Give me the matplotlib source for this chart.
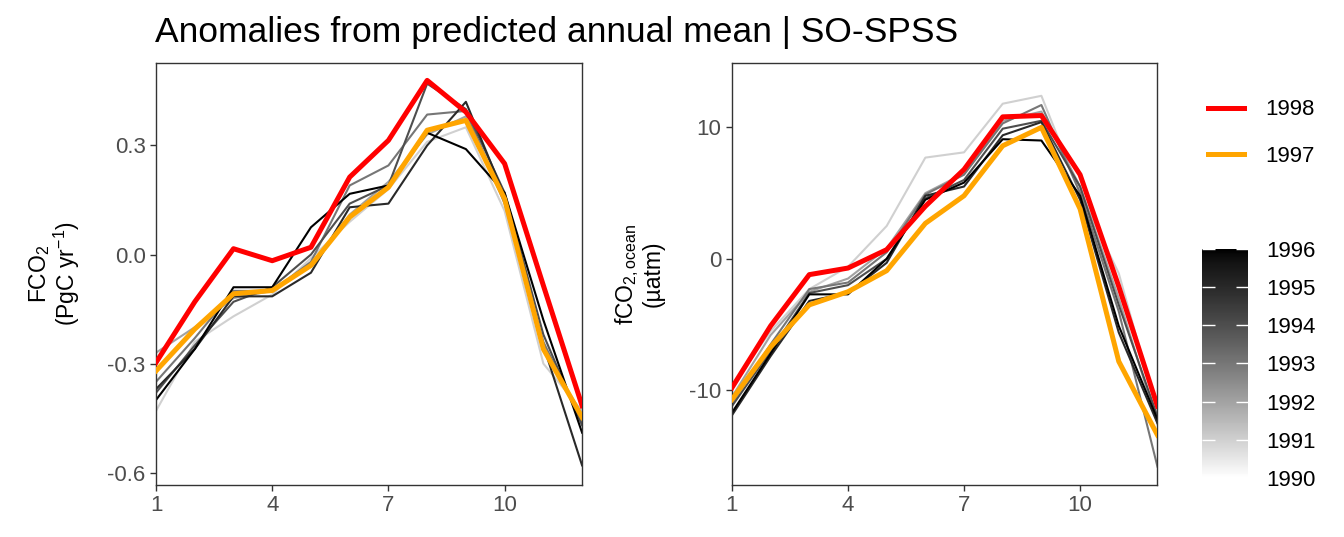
import numpy as np
import matplotlib
matplotlib.use("Agg")
import matplotlib.pyplot as plt
from matplotlib.colors import ListedColormap, Normalize
from matplotlib.cm import ScalarMappable
from matplotlib.lines import Line2D

plt.rcParams['font.family'] = ['Liberation Sans', 'DejaVu Sans']
plt.rcParams['axes.unicode_minus'] = False
plt.rcParams['mathtext.fontset'] = 'custom'
plt.rcParams['mathtext.rm'] = 'Liberation Sans'
plt.rcParams['mathtext.it'] = 'Liberation Sans'

months = np.arange(1, 13)
grey_years = [1991, 1992, 1993, 1994, 1995, 1996]

# FCO2 anomalies (PgC yr-1)
fco2_1991 = [-0.43, -0.24, -0.17, -0.11, -0.01, 0.09, 0.18, 0.31, 0.35, 0.12, -0.30, -0.43]
fco2_1992 = [-0.27, -0.20, -0.12, -0.10, -0.03, 0.11, 0.20, 0.33, 0.38, 0.16, -0.26, -0.44]
fco2_1993 = [-0.35, -0.23, -0.10, -0.10, -0.02, 0.19, 0.245, 0.385, 0.395, 0.14, -0.24, -0.46]
fco2_1994 = [-0.38, -0.25, -0.13, -0.09, 0.00, 0.14, 0.19, 0.47, 0.40, 0.17, -0.22, -0.47]
fco2_1995 = [-0.37, -0.26, -0.115, -0.115, -0.05, 0.13, 0.14, 0.30, 0.42, 0.16, -0.25, -0.58]
fco2_1996 = [-0.40, -0.26, -0.09, -0.09, 0.075, 0.167, 0.19, 0.335, 0.29, 0.17, -0.18, -0.49]
fco2_1997 = [-0.32, -0.205, -0.108, -0.099, -0.03, 0.103, 0.185, 0.342, 0.369, 0.153, -0.26, -0.448]
fco2_1998 = [-0.297, -0.13, 0.016, -0.017, 0.02, 0.213, 0.314, 0.479, 0.392, 0.25, -0.085, -0.416]

# fCO2,ocean anomalies (uatm)
pco2_1991 = [-9.7, -5.5, -2.3, -0.6, 2.5, 7.7, 8.1, 11.8, 12.4, 5.0, -1.1, -11.7]
pco2_1992 = [-10.5, -5.8, -2.5, -1.5, 0.8, 5.0, 6.5, 10.5, 11.2, 5.5, -3.0, -12.5]
pco2_1993 = [-11.0, -6.5, -2.3, -1.8, 0.5, 4.9, 6.4, 10.3, 11.7, 5.0, -4.0, -15.8]
pco2_1994 = [-11.2, -7.0, -2.6, -2.0, 0.0, 4.6, 6.0, 9.9, 10.5, 5.5, -3.5, -12.0]
pco2_1995 = [-11.9, -7.4, -3.2, -2.6, -0.3, 4.8, 5.5, 9.4, 10.4, 4.5, -5.6, -12.5]
pco2_1996 = [-11.7, -7.2, -2.7, -2.7, 0.0, 4.5, 5.8, 9.1, 9.0, 4.8, -5.1, -12.2]
pco2_1997 = [-10.7, -6.7, -3.5, -2.5, -0.9, 2.7, 4.8, 8.6, 10.0, 3.8, -7.8, -13.4]
pco2_1998 = [-9.8, -5.1, -1.2, -0.7, 0.7, 4.0, 6.8, 10.8, 10.9, 6.4, -2.1, -11.2]

fco2_grey = [fco2_1991, fco2_1992, fco2_1993, fco2_1994, fco2_1995, fco2_1996]
pco2_grey = [pco2_1991, pco2_1992, pco2_1993, pco2_1994, pco2_1995, pco2_1996]


# white -> black gradient interpolated in Lab lightness (like ggplot)
def lab_grey(t):
    L = 100 * (1 - t)
    Y = ((L + 16) / 116) ** 3 if L > 8 else L / 903.3
    v = 1.055 * Y ** (1 / 2.4) - 0.055 if Y > 0.0031308 else 12.92 * Y
    return (v, v, v)


cmap = ListedColormap([lab_grey(t) for t in np.linspace(0, 1, 256)])
norm = Normalize(1990, 1996)

fig = plt.figure(figsize=(13.44, 5.37), dpi=100)
ax1 = fig.add_axes([0.1161, 0.0968, 0.317, 0.786])
ax2 = fig.add_axes([0.5446, 0.0968, 0.3166, 0.786])

panels = [
    (ax1, fco2_grey, fco2_1997, fco2_1998, (-0.634, 0.527), [-0.6, -0.3, 0.0, 0.3],
     ['-0.6', '-0.3', '0.0', '0.3'], 'FCO$_2$\n(PgC yr$^{-1}$)'),
    (ax2, pco2_grey, pco2_1997, pco2_1998, (-17.2, 14.9), [-10, 0, 10],
     ['-10', '0', '10'], 'fCO$_{2,\\mathrm{ocean}}$\n(µatm)'),
]

for ax, greys, y97, y98, ylim, yt, ytl, ylab in panels:
    for yr, vals in zip(grey_years, greys):
        ax.plot(months, vals, color=cmap(norm(yr)), lw=1.5, zorder=2)
    ax.plot(months, y98, color='red', lw=3.6, zorder=3)
    ax.plot(months, y97, color='orange', lw=3.6, zorder=4)
    ax.set_xlim(1, 12)
    ax.set_ylim(*ylim)
    ax.set_xticks([1, 4, 7, 10])
    ax.set_yticks(yt)
    ax.set_yticklabels(ytl)
    ax.tick_params(labelsize=16, colors='#333333', labelcolor='#4d4d4d', length=4.5, width=1,
                   pad=3)
    for s in ax.spines.values():
        s.set_color('#333333')
        s.set_linewidth(1)
    ax.set_ylabel(ylab, fontsize=16.5, labelpad=18, linespacing=1.0)

fig.text(0.1155, 1 - 42 / 537, 'Anomalies from predicted annual mean | SO-SPSS', fontsize=25.5,
         ha='left', va='baseline')

# legend for highlighted years
handles = [Line2D([], [], color='red', lw=3.6), Line2D([], [], color='orange', lw=3.6)]
fig.legend(handles, ['1998', '1997'], loc='upper left', bbox_to_anchor=(0.8843, 0.852),
           frameon=False, fontsize=16, handlelength=1.62, handletextpad=0.95,
           labelspacing=1.15)

# colour bar for the grey years
cax = fig.add_axes([0.8943, 0.1099, 0.0342, 0.4264])
cb = fig.colorbar(ScalarMappable(norm=norm, cmap=cmap), cax=cax)
cb.outline.set_visible(False)
cb.set_ticks(range(1990, 1997))
cb.ax.tick_params(left=True, right=True, direction='in', length=9, width=1,
                  color='white', labelcolor='black', labelsize=16, pad=13)

fig.savefig('out.png', dpi=100)
